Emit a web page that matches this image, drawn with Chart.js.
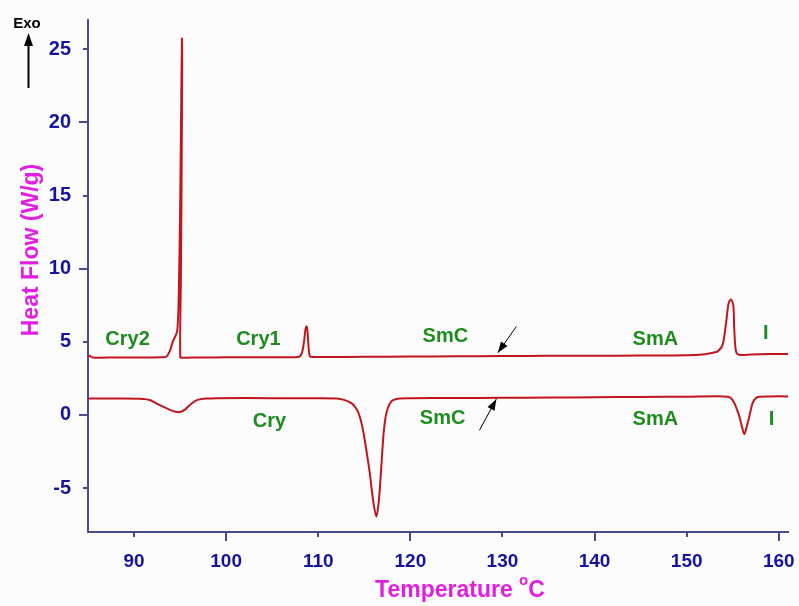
<!DOCTYPE html>
<html>
<head>
<meta charset="utf-8">
<script src="https://cdn.jsdelivr.net/npm/chart.js@4.4.1/dist/chart.umd.min.js"></script>
<style>
html,body{margin:0;padding:0;background:#fcfcfc;}
#c{display:block;}
</style>
</head>
<body>
<canvas id="c" width="799" height="606"></canvas>
<script>
// ---- data ----
const heatTemp = [85.0, 85.15, 85.5, 88, 91, 93.0, 93.5, 93.9, 94.2, 94.5, 94.7, 94.85, 95.0, 95.1, 95.2, 95.22, 95.16, 95.08, 95.02, 95.3, 97, 100, 104, 107.8, 108.2, 108.45, 108.6, 108.72, 108.85, 108.95, 109.1, 109.4, 115, 120, 125, 130, 135, 140, 145, 150, 152.0, 152.8, 153.36, 153.9, 154.27, 154.55, 154.81, 155.06, 155.17, 155.36, 155.72, 157, 159, 161];
const heatFlow = [3.93, 4.05, 3.93, 3.93, 3.93, 3.94, 3.98, 4.4, 5.0, 5.4, 5.8, 8.0, 14.0, 20.0, 25.7, 24.0, 16.0, 9.0, 3.95, 3.92, 3.93, 3.94, 3.95, 3.97, 4.2, 5.0, 5.8, 6.05, 5.6, 4.6, 4.0, 3.96, 3.98, 3.99, 4.01, 4.03, 4.04, 4.05, 4.06, 4.08, 4.15, 4.25, 4.35, 4.79, 6.27, 7.63, 7.9, 7.5, 5.8, 4.33, 4.11, 4.14, 4.16, 4.17];

const coolTemp = [85, 88, 91.0, 91.7, 92.4, 93.2, 93.9, 94.5, 95.0, 95.5, 96.0, 96.5, 97.0, 97.8, 99, 105, 110, 112.0, 112.8, 113.4, 113.8, 114.2, 114.5, 114.8, 115.04, 115.59, 115.94, 116.31, 116.59, 116.85, 117.1, 117.4, 117.94, 118.66, 120, 125, 130, 135, 140, 145, 150, 154.0, 154.7, 155.17, 155.5, 155.72, 156.0, 156.26, 156.5, 156.8, 157.0, 157.16, 157.5, 157.9, 159, 161];
const coolFlow = [1.12, 1.12, 1.10, 1.02, 0.8, 0.55, 0.35, 0.22, 0.2, 0.35, 0.65, 0.9, 1.05, 1.12, 1.15, 1.15, 1.14, 1.12, 1.03, 0.88, 0.7, 0.35, -0.1, -0.85, -1.68, -3.95, -5.77, -6.95, -5.77, -3.5, -1.23, 0.14, 0.93, 1.11, 1.14, 1.16, 1.17, 1.19, 1.21, 1.23, 1.25, 1.27, 1.2, 0.82, 0.3, -0.1, -0.8, -1.32, -0.85, -0.1, 0.45, 0.82, 1.15, 1.25, 1.27, 1.27];

const xTicks = [90, 100, 110, 120, 130, 140, 150, 160];
const yTicks = [-5, 0, 5, 10, 15, 20, 25];

const phaseLabels = ['Cry2', 'Cry1', 'SmC', 'SmA', 'I', 'Cry', 'SmC', 'SmA', 'I'];
// ---- end data ----

const phaseAt = [
  [89.3, 5.15], [103.5, 5.15], [123.8, 5.34], [146.6, 5.13], [158.6, 5.54],
  [104.7, -0.45], [123.5, -0.26], [146.6, -0.32], [159.2, -0.32]
];
const pointerArrows = [
  {from: [131.5, 6.04], to: [129.5, 4.25]},
  {from: [127.5, -1.05], to: [129.33, 1.08]}
];

const FONT = '"Liberation Sans", Arial, Helvetica, sans-serif';
const AXIS = '#4b4b8c';
const TICKTXT = '#1414a0';
const MAGENTA = '#e21ee2';
const GREEN = '#1f8c1f';
const CURVE = '#c0161c';

function pts(xs, ys) { return xs.map((x, i) => ({x: x, y: ys[i]})); }

function arrowHead(ctx, x0, y0, x1, y1, len, half) {
  const a = Math.atan2(y1 - y0, x1 - x0);
  ctx.beginPath();
  ctx.moveTo(x1, y1);
  ctx.lineTo(x1 - len * Math.cos(a) + half * Math.sin(a), y1 - len * Math.sin(a) - half * Math.cos(a));
  ctx.lineTo(x1 - len * Math.cos(a) - half * Math.sin(a), y1 - len * Math.sin(a) + half * Math.cos(a));
  ctx.closePath();
  ctx.fill();
}

const decor = {
  id: 'decor',
  beforeDraw(chart) {
    const ctx = chart.ctx;
    ctx.save();
    ctx.fillStyle = '#fcfcfc';
    ctx.fillRect(0, 0, chart.width, chart.height);
    ctx.restore();
  },
  afterDraw(chart) {
    const ctx = chart.ctx;
    const xs = chart.scales.x, ys = chart.scales.y;
    const area = chart.chartArea;
    ctx.save();
    // tick marks
    ctx.strokeStyle = AXIS;
    ctx.lineWidth = 2;
    xs.ticks.forEach(t => {
      const px = Math.round(xs.getPixelForValue(t.value));
      const len = (t.value % 20 === 0) ? 9 : 5;
      ctx.beginPath();
      ctx.moveTo(px, area.bottom);
      ctx.lineTo(px, area.bottom + len);
      ctx.stroke();
    });
    ys.ticks.forEach(t => {
      const py = Math.round(ys.getPixelForValue(t.value));
      const len = (t.value % 10 === 0) ? 9 : 5;
      ctx.beginPath();
      ctx.moveTo(area.left, py);
      ctx.lineTo(area.left - len, py);
      ctx.stroke();
    });

    // axis titles
    ctx.fillStyle = MAGENTA;
    ctx.font = 'bold 23px ' + FONT;
    ctx.textAlign = 'center';
    ctx.textBaseline = 'middle';
    ctx.save();
    ctx.translate(32, 250);
    ctx.rotate(-Math.PI / 2);
    ctx.fillText('Heat Flow (W/g)', 0, 0);
    ctx.restore();

    const t1 = 'Temperature ';
    const w1 = ctx.measureText(t1).width;
    ctx.font = 'bold 15px ' + FONT;
    const wo = ctx.measureText('o').width;
    ctx.font = 'bold 23px ' + FONT;
    const wc = ctx.measureText('C').width;
    const total = w1 + wo + wc;
    let sx = 460 - total / 2;
    ctx.textAlign = 'left';
    ctx.fillText(t1, sx, 591);
    ctx.font = 'bold 15px ' + FONT;
    ctx.fillText('o', sx + w1, 581);
    ctx.font = 'bold 23px ' + FONT;
    ctx.fillText('C', sx + w1 + wo, 591);

    // Exo arrow
    ctx.fillStyle = '#000';
    ctx.strokeStyle = '#000';
    ctx.font = 'bold 15px ' + FONT;
    ctx.textAlign = 'center';
    ctx.fillText('Exo', 27, 24);
    ctx.lineWidth = 2;
    ctx.beginPath();
    ctx.moveTo(28.5, 88);
    ctx.lineTo(28.5, 42);
    ctx.stroke();
    arrowHead(ctx, 28.5, 88, 28.5, 33, 13, 4.5);

    // phase labels
    ctx.fillStyle = GREEN;
    ctx.font = 'bold 20px ' + FONT;
    ctx.textAlign = 'center';
    ctx.textBaseline = 'middle';
    phaseLabels.forEach((s, i) => {
      ctx.fillText(s, xs.getPixelForValue(phaseAt[i][0]), ys.getPixelForValue(phaseAt[i][1]));
    });

    // pointer arrows
    ctx.fillStyle = '#000';
    ctx.strokeStyle = '#000';
    ctx.lineWidth = 1;
    pointerArrows.forEach(a => {
      const x0 = xs.getPixelForValue(a.from[0]), y0 = ys.getPixelForValue(a.from[1]);
      const x1 = xs.getPixelForValue(a.to[0]), y1 = ys.getPixelForValue(a.to[1]);
      ctx.beginPath();
      ctx.moveTo(x0, y0);
      ctx.lineTo(x1, y1);
      ctx.stroke();
      arrowHead(ctx, x0, y0, x1, y1, 11, 4);
    });
    ctx.restore();
  }
};

new Chart(document.getElementById('c'), {
  type: 'scatter',
  data: {
    datasets: [
      {label: 'Heating', data: pts(heatTemp, heatFlow), showLine: true, borderColor: CURVE, borderWidth: 2, pointRadius: 0, tension: 0.3, fill: false},
      {label: 'Cooling', data: pts(coolTemp, coolFlow), showLine: true, borderColor: CURVE, borderWidth: 2, pointRadius: 0, tension: 0.3, fill: false}
    ]
  },
  options: {
    responsive: false,
    devicePixelRatio: 1,
    animation: false,
    layout: {padding: {top: 20, right: 11, bottom: 0, left: 0}},
    plugins: {legend: {display: false}, tooltip: {enabled: false}},
    scales: {
      x: {
        type: 'linear', min: 85, max: 161,
        afterBuildTicks: s => { s.ticks = xTicks.map(v => ({value: v})); },
        afterFit: s => { s.height = 74; s.paddingLeft = 0; s.paddingRight = 0; },
        grid: {display: false, drawTicks: false},
        border: {display: true, color: AXIS, width: 2},
        ticks: {color: TICKTXT, font: {family: FONT, size: 19, weight: 'bold'}, padding: 18, maxRotation: 0}
      },
      y: {
        type: 'linear', min: -8, max: 27,
        afterBuildTicks: s => { s.ticks = yTicks.map(v => ({value: v})); },
        afterFit: s => { s.width = 88; s.paddingTop = 0; s.paddingBottom = 0; },
        grid: {display: false, drawTicks: false},
        border: {display: true, color: AXIS, width: 2},
        ticks: {color: TICKTXT, font: {family: FONT, size: 20, weight: 'bold'}, padding: 17}
      }
    }
  },
  plugins: [decor]
});
</script>
</body>
</html>
